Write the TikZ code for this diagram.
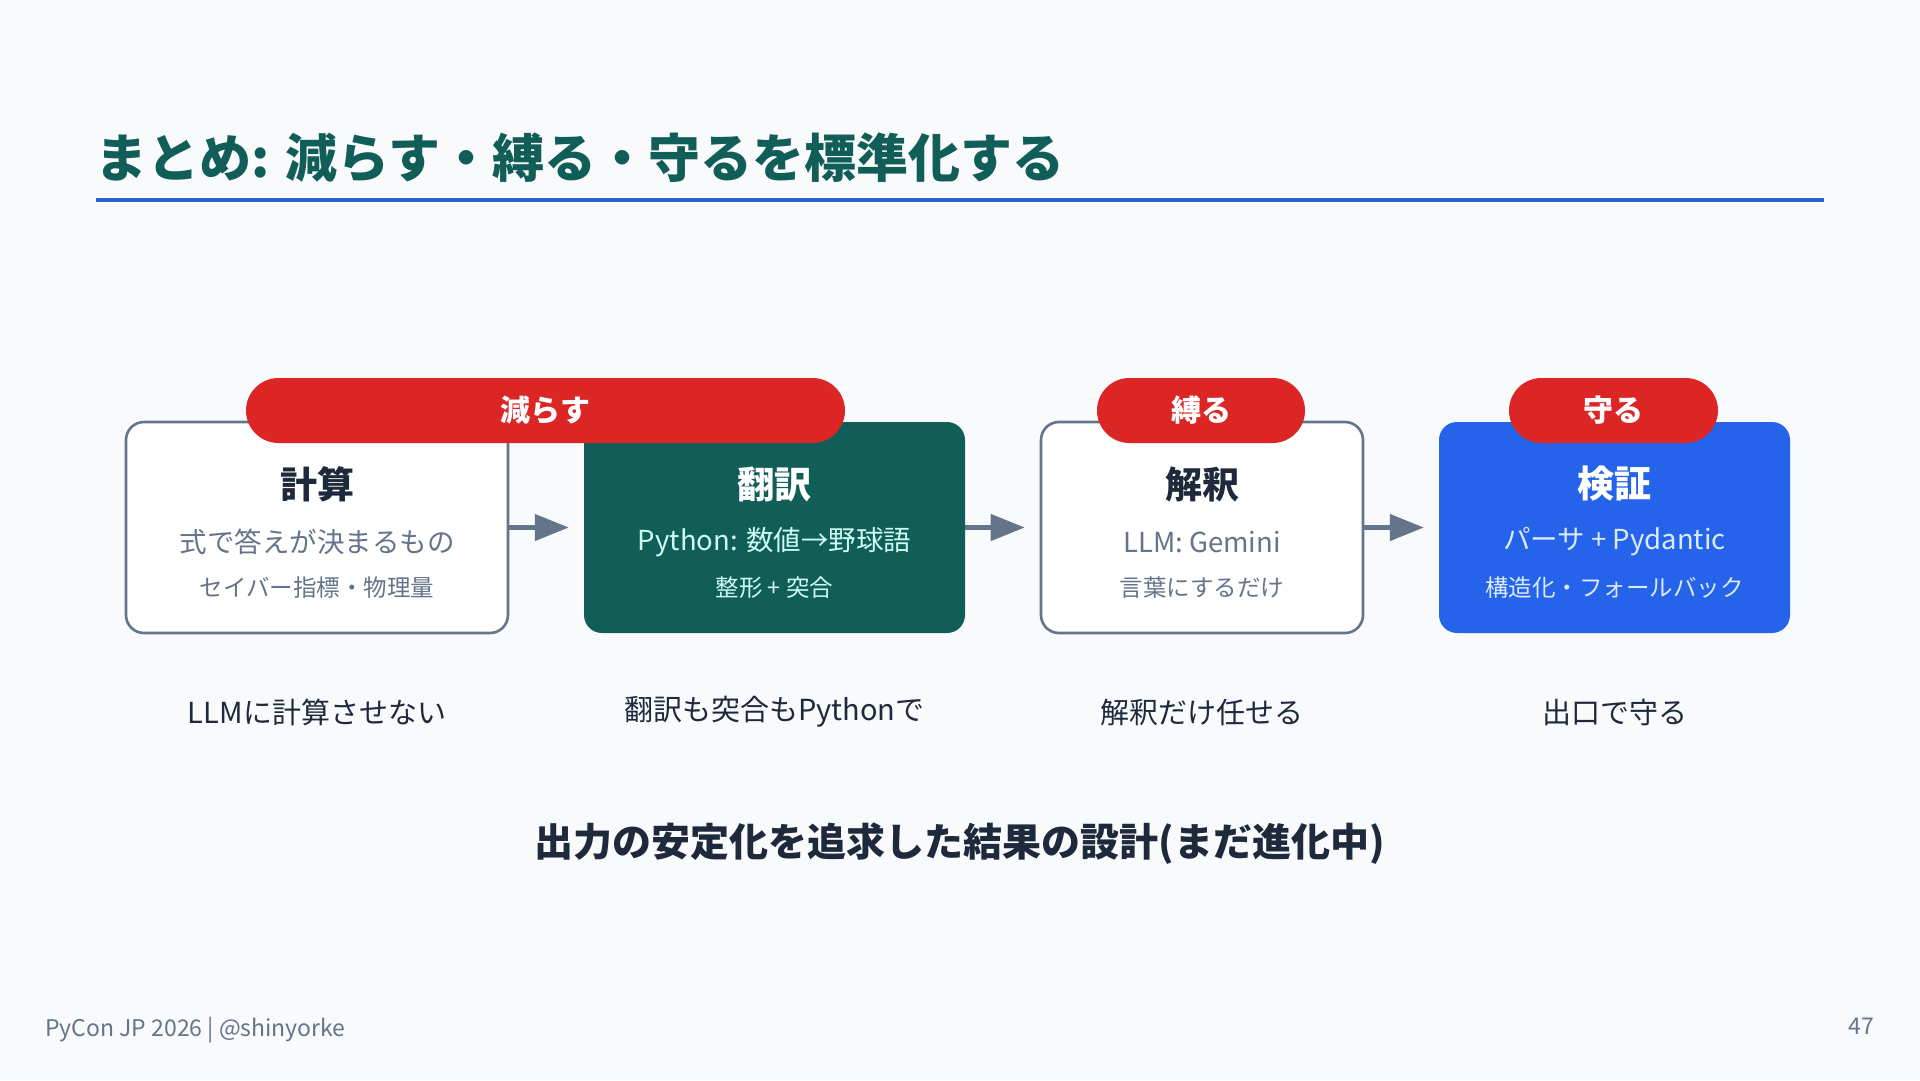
\documentclass[tikz,border=0pt]{standalone}
\usepackage{fontspec}
\setmainfont{Noto Sans CJK JP}
\usetikzlibrary{arrows.meta}
\definecolor{bg}{HTML}{F8FAFC}
\definecolor{teal}{HTML}{115E59}
\definecolor{blueA}{HTML}{2563EB}
\definecolor{lineblue}{HTML}{2B63D0}
\definecolor{redA}{HTML}{DC2626}
\definecolor{slate}{HTML}{64748B}
\definecolor{dark}{HTML}{1E293B}
\definecolor{tealtxt}{HTML}{CCFBF1}
\definecolor{bluetxt}{HTML}{DBEAFE}
\newcommand{\fs}[1]{\fontsize{#1}{#1}\selectfont}
\tikzset{
  box/.style={rounded corners=18pt, minimum height=211pt, inner sep=0pt},
  wbox/.style={box, draw=slate, line width=2.6pt, fill=white},
  gbox/.style={box, fill=teal},
  bbox/.style={box, fill=blueA},
  pill/.style={fill=redA, rounded corners=32.5pt, minimum height=65pt, inner sep=0pt, text=white, font=\fs{30}\bfseries},
  ttl/.style={inner sep=0pt, font=\fs{37}\bfseries},
  sub/.style={inner sep=0pt, font=\fs{27.5}},
  subb/.style={inner sep=0pt, font=\fs{23.5}},
  lbl/.style={inner sep=0pt, font=\fs{29}, text=dark},
  conn/.style={draw=slate, line width=4.5pt, -{Triangle[length=34pt,width=26pt]}, shorten >=15pt},
}
\begin{document}
\begin{tikzpicture}[x=1pt,y=-1pt]
\useasboundingbox (0,0) rectangle (1920,1080);
\fill[bg] (0,0) rectangle (1920,1080);
% title
\node[anchor=west, inner sep=0pt, text=teal, font=\fs{52}\bfseries] (title) at (95,158) {まとめ: 減らす・縛る・守るを標準化する};
\coordinate (ruleL) at (96,200);
\coordinate (ruleR) at (1824,200);
\draw[lineblue, line width=4pt] (ruleL) -- (ruleR);
% boxes
\node[wbox, minimum width=382pt] (b1) at (317,527.5) {};
\node[gbox, minimum width=381pt] (b2) at (774.5,527.5) {};
\node[wbox, minimum width=322pt] (b3) at (1202,527.5) {};
\node[bbox, minimum width=351pt] (b4) at (1614.5,527.5) {};
% arrows
\draw[conn] (b1.east) -- (b2.west);
\draw[conn] (b2.east) -- (b3.west);
\draw[conn] (b3.east) -- (b4.west);
% pills
\node[pill, minimum width=599pt] (p1) at (545.5,410.5) {減らす};
\node[pill, minimum width=208pt] (p2) at (1201,410.5) {縛る};
\node[pill, minimum width=209pt] (p3) at (1613.5,410.5) {守る};
% box texts
\node[ttl, text=dark] (t1) at (317,484) {計算};
\node[sub, text=slate] (s1) at (317,542) {式で答えが決まるもの};
\node[subb, text=slate] (u1) at (317,588) {セイバー指標・物理量};
\node[ttl, text=white] (t2) at (774.5,484) {翻訳};
\node[sub, text=tealtxt] (s2) at (774.5,542) {Python: 数値→野球語};
\node[subb, text=tealtxt] (u2) at (774.5,588) {整形 + 突合};
\node[ttl, text=dark] (t3) at (1202,484) {解釈};
\node[sub, text=slate] (s3) at (1202,542) {LLM: Gemini};
\node[subb, text=slate] (u3) at (1202,588) {言葉にするだけ};
\node[ttl, text=white] (t4) at (1614.5,484) {検証};
\node[sub, text=bluetxt] (s4) at (1614.5,542) {パーサ + Pydantic};
\node[subb, text=bluetxt] (u4) at (1614.5,588) {構造化・フォールバック};
% labels
\node[lbl] (l1) at (317,712) {LLMに計算させない};
\node[lbl] (l2) at (774.5,712) {翻訳も突合もPythonで};
\node[lbl] (l3) at (1202,712) {解釈だけ任せる};
\node[lbl] (l4) at (1614.5,712) {出口で守る};
% conclusion
\node[inner sep=0pt, text=dark, font=\fs{39}\bfseries] (concl) at (960,844) {出力の安定化を追求した結果の設計(まだ進化中)};
% footer
\node[anchor=west, inner sep=0pt, text=slate, font=\fs{23}] (foot) at (45,1030) {PyCon JP 2026 | @shinyorke};
\node[anchor=east, inner sep=0pt, text=slate, font=\fs{23}] (page) at (1874,1026) {47};
\end{tikzpicture}
\end{document}
